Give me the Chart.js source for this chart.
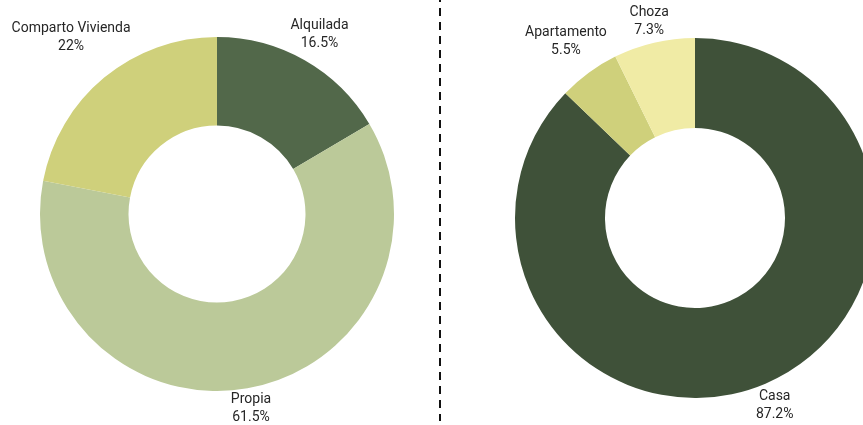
<!DOCTYPE html>
<html>
<head>
<meta charset="utf-8">
<script src="https://cdn.jsdelivr.net/npm/chart.js@4/dist/chart.umd.min.js"></script>
<style>
    html, body { margin: 0; padding: 0; background: #fff; width: 863px; height: 425px; overflow: hidden; position: relative; }
    canvas { position: absolute; top: 0; }
    #leftChart { left: 0; }
    #rightChart { left: 495px; }
</style>
</head>
<body>
<canvas id="leftChart" width="443" height="425"></canvas>
<canvas id="rightChart" width="400" height="425"></canvas>
<script>
// Tenencia de vivienda
const tenureLabels = ['Alquilada', 'Propia', 'Comparto Vivienda'];
const tenureValues = [16.5, 61.5, 22];
const tenureColors = ['#52684a', '#bbc999', '#cfd07b'];

// Tipo de vivienda
const typeLabels = ['Casa', 'Apartamento', 'Choza'];
const typeValues = [87.2, 5.5, 7.3];
const typeColors = ['#3f5139', '#cfd07b', '#f0eba5'];

const FONT = '14px Roboto, "Noto Sans", sans-serif';

// Draw "label / value%" outside each slice, at the slice's middle angle
const outsideLabels = {
    id: 'outsideLabels',
    afterDatasetsDraw(chart) {
        const ctx = chart.ctx;
        const meta = chart.getDatasetMeta(0);
        const values = chart.data.datasets[0].data;
        ctx.save();
        ctx.font = FONT;
        ctx.fillStyle = '#262626';
        ctx.textAlign = 'center';
        ctx.textBaseline = 'middle';
        meta.data.forEach((arc, i) => {
            const p = arc.getProps(['x', 'y', 'startAngle', 'endAngle', 'outerRadius'], true);
            const mid = (p.startAngle + p.endAngle) / 2;
            const line1 = chart.data.labels[i];
            const line2 = values[i] + '%';
            const w = Math.max(ctx.measureText(line1).width, ctx.measureText(line2).width);
            const h = 31;
            const cos = Math.cos(mid), sin = Math.sin(mid);
            const dist = p.outerRadius + 2 + Math.abs(cos) * w / 2 + Math.abs(sin) * h / 2;
            const cx = p.x + cos * dist;
            const cy = p.y + sin * dist;
            ctx.fillText(line1, cx, cy - 9);
            ctx.fillText(line2, cx, cy + 9);
        });
        ctx.restore();
    }
};

// Dashed divider between the two charts
const divider = {
    id: 'divider',
    afterDraw(chart) {
        const ctx = chart.ctx;
        ctx.save();
        ctx.strokeStyle = '#111';
        ctx.lineWidth = 2;
        ctx.setLineDash([8, 6]);
        ctx.lineDashOffset = 6;
        ctx.beginPath();
        ctx.moveTo(440, 0);
        ctx.lineTo(440, 421);
        ctx.stroke();
        ctx.restore();
    }
};

function makeDoughnut(id, labels, values, colors, padding, extraPlugins) {
    return new Chart(document.getElementById(id), {
        type: 'doughnut',
        data: {
            labels: labels,
            datasets: [{
                data: values,
                backgroundColor: colors,
                borderWidth: 0
            }]
        },
        options: {
            responsive: false,
            animation: false,
            cutout: '50%',
            layout: { padding: padding },
            plugins: {
                legend: { display: false },
                tooltip: { enabled: false }
            }
        },
        plugins: [outsideLabels].concat(extraPlugins)
    });
}

makeDoughnut('leftChart', tenureLabels, tenureValues, tenureColors,
    { left: 40, right: 49, top: 37, bottom: 34 }, [divider]);
makeDoughnut('rightChart', typeLabels, typeValues, typeColors,
    { left: 20, right: 20, top: 38, bottom: 27 }, []);
</script>
</body>
</html>
